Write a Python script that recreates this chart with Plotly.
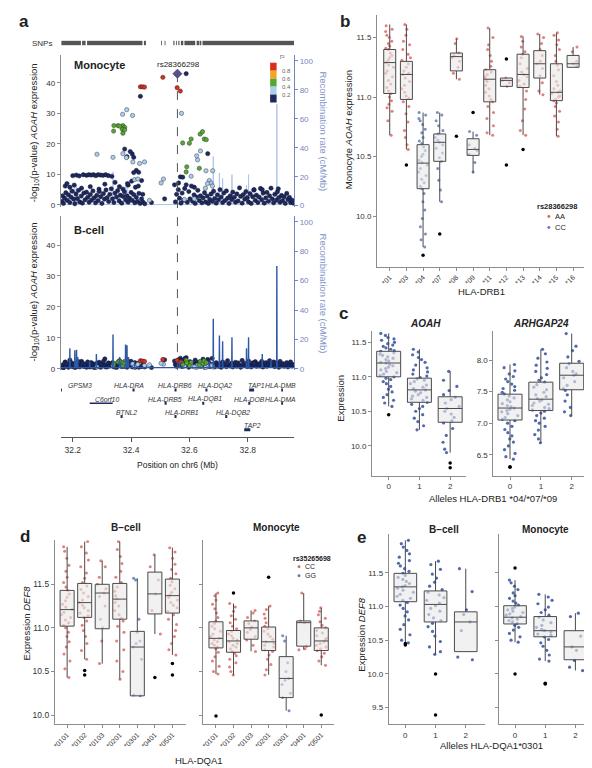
import plotly.graph_objects as go

W, H = 592, 768
FONT = "Liberation Sans, Arial, Helvetica, sans-serif"


def fx(px):
    return px / W


def fy(py):
    return 1 - py / H


# ====================== Panel a data ======================
snp_seg_start = [32.161, 32.232, 32.249, 32.444, 32.503, 32.515, 32.545, 32.554, 32.562, 32.571, 32.583, 32.625, 32.635, 32.645]
snp_seg_end = [32.228, 32.244, 32.439, 32.451, 32.506, 32.518, 32.549, 32.557, 32.566, 32.579, 32.620, 32.633, 32.641, 32.959]

lead_snp = "rs28366298"
lead_pos = 32.559
lead_mono = 43.0

red_pos = [32.432, 32.439, 32.446, 32.509, 32.558, 32.569]
red_mono = [38.7, 38.7, 38.6, 41.8, 38.4, 37.3]
red_bcell = [2.6, 2.5, 2.4, 3.0, 2.7, 2.2]

green_pos = [32.341, 32.355, 32.372, 32.378, 32.340, 32.370, 32.372, 32.378, 32.361, 32.606,
             32.577, 32.637, 32.645, 32.651, 32.600, 32.589, 32.634, 32.591, 32.658]
green_mono = [26.0, 26.0, 26.0, 25.4, 24.2, 24.8, 23.5, 24.6, 25.8, 21.6,
              20.3, 23.2, 24.0, 21.6, 20.2, 10.8, 12.0, 12.5, 21.4]
green_bcell = [1.8, 2.2, 1.5, 2.4, 1.2, 2.0, 1.0, 1.7, 2.5, 2.1,
               1.4, 2.3, 1.6, 2.6, 1.0, 2.8, 1.2, 1.9, 2.0]

lblue_pos = [32.385, 32.371, 32.405, 32.573, 32.283, 32.338, 32.372, 32.384, 32.406, 32.429,
             32.446, 32.412, 32.423, 32.638, 32.628, 32.625, 32.606, 32.657, 32.680, 32.668,
             32.674, 32.511, 32.503, 32.662, 32.679, 32.655, 32.463, 32.583, 32.617]
lblue_mono = [31.2, 29.7, 29.3, 30.0, 16.6, 15.6, 16.8, 15.5, 14.1, 13.6,
              14.1, 8.3, 8.5, 17.7, 14.8, 16.1, 9.4, 11.2, 11.2, 8.0,
              7.2, 8.5, 7.2, 7.0, 6.2, 5.5, 1.5, 1.8, 2.0]
lblue_bcell = [1.2, 0.8, 1.5, 2.0, 0.6, 1.0, 1.3, 0.9, 1.6, 2.0,
               1.1, 0.7, 1.4, 0.8, 1.2, 0.5, 1.0, 1.3, 0.6, 0.9,
               1.1, 1.5, 1.8, 0.7, 1.0, 0.4, 1.3, 0.9, 0.6]

navy_pos = [
    32.200, 32.212, 32.222, 32.236, 32.247, 32.255, 32.263, 32.271, 32.279, 32.287,
    32.296, 32.304, 32.313, 32.322, 32.334, 32.174, 32.180, 32.190, 32.205, 32.230,
    32.260, 32.290, 32.310, 32.345, 32.360, 32.372, 32.390, 32.415, 32.425, 32.440,
    32.589, 32.432, 32.378, 32.397, 32.404, 32.386, 32.409, 32.663, 32.418, 32.409,
    32.426, 32.569, 32.577, 32.563, 32.589, 32.549, 32.617, 32.436, 32.402, 32.388,
    32.515, 32.470, 32.162, 32.165, 32.168, 32.172, 32.176, 32.181, 32.185, 32.190,
    32.194, 32.198, 32.203, 32.207, 32.211, 32.216, 32.220, 32.224, 32.229, 32.233,
    32.238, 32.242, 32.247, 32.251, 32.256, 32.260, 32.265, 32.269, 32.273, 32.278,
    32.282, 32.287, 32.291, 32.296, 32.300, 32.305, 32.309, 32.314, 32.318, 32.323,
    32.327, 32.332, 32.336, 32.341, 32.345, 32.350, 32.354, 32.359, 32.363, 32.368,
    32.372, 32.377, 32.381, 32.386, 32.390, 32.395, 32.400, 32.404, 32.409, 32.413,
    32.418, 32.422, 32.427, 32.431, 32.436, 32.440, 32.447, 32.552, 32.556, 32.562,
    32.566, 32.571, 32.575, 32.580, 32.584, 32.593, 32.598, 32.602, 32.607, 32.611,
    32.616, 32.620, 32.625, 32.629, 32.634, 32.638, 32.643, 32.647, 32.652, 32.656,
    32.661, 32.665, 32.670, 32.674, 32.678, 32.683, 32.687, 32.692, 32.696, 32.700,
    32.705, 32.709, 32.714, 32.718, 32.722, 32.727, 32.731, 32.736, 32.740, 32.745,
    32.749, 32.754, 32.758, 32.763, 32.767, 32.772, 32.776, 32.781, 32.785, 32.790,
    32.794, 32.799, 32.803, 32.808, 32.812, 32.817, 32.821, 32.826, 32.830, 32.835,
    32.839, 32.844, 32.848, 32.853, 32.857, 32.862, 32.866, 32.871, 32.875, 32.880,
    32.884, 32.889, 32.893, 32.898, 32.902, 32.907, 32.911, 32.916, 32.920, 32.925,
    32.929, 32.934, 32.938, 32.943, 32.947, 32.952, 32.956, 32.822, 32.850, 32.905]
navy_mono = [
    9.6, 9.8, 9.5, 9.9, 9.7, 9.9, 9.8, 9.9, 9.6, 9.9,
    9.8, 9.7, 9.9, 9.6, 9.4, 6.2, 7.0, 5.8, 6.5, 5.5,
    6.0, 5.2, 6.8, 7.4, 6.0, 5.2, 6.5, 5.8, 6.2, 3.5,
    43.0, 35.6, 18.3, 17.5, 16.7, 15.8, 15.6, 16.8, 11.3, 10.6,
    10.7, 9.2, 9.1, 7.2, 6.6, 6.6, 5.8, 8.0, 7.8, 7.0,
    2.0, 0.8, 1.2, 3.0, 0.5, 2.2, 4.0, 1.5, 3.3, 0.8,
    2.6, 4.5, 1.9, 0.4, 3.6, 2.1, 4.8, 1.0, 2.9, 0.6,
    3.9, 1.7, 4.2, 2.5, 0.9, 3.4, 1.6, 4.6, 2.3, 0.7,
    3.1, 1.4, 4.4, 2.7, 0.5, 3.7, 1.9, 4.9, 2.4, 1.1,
    3.5, 5.3, 2.0, 0.8, 3.9, 2.6, 4.7, 1.3, 3.2, 0.6,
    2.8, 4.3, 1.7, 3.0, 0.9, 2.2, 4.1, 1.5, 3.4, 0.7,
    2.5, 1.2, 3.8, 0.5, 2.0, 1.0, 0.4, 1.0, 3.5, 5.0,
    2.2, 0.6, 3.9, 1.5, 5.4, 0.9, 4.4, 2.0, 6.2, 1.2,
    3.3, 0.5, 2.6, 4.8, 1.4, 3.0, 0.7, 2.3, 4.0, 1.0,
    2.9, 0.5, 1.8, 3.6, 1.2, 4.5, 2.1, 0.6, 3.3, 1.7,
    5.0, 2.6, 0.8, 3.9, 1.4, 4.6, 2.2, 0.5, 3.0, 1.8,
    4.2, 2.5, 0.9, 3.6, 1.3, 5.6, 2.8, 0.6, 3.4, 1.9,
    4.4, 2.4, 1.0, 3.7, 0.5, 2.7, 4.9, 1.5, 3.2, 0.8,
    2.6, 5.4, 1.7, 3.9, 0.6, 2.3, 4.1, 1.2, 3.0, 5.5,
    2.0, 0.7, 3.5, 1.6, 4.3, 2.4, 0.9, 3.1, 1.4, 2.7,
    0.5, 3.8, 1.8, 2.5, 0.8, 1.6, 0.6, 5.0, 5.0, 5.3]
navy_bcell = [
    1.1, 0.6, 1.8, 0.9, 1.4, 0.7, 2.0, 1.2, 0.5, 1.6,
    0.8, 1.3, 0.6, 1.9, 1.0, 2.2, 1.5, 2.8, 1.7, 2.4,
    1.0, 2.1, 3.2, 1.4, 2.6, 0.8, 1.9, 0.5, 1.2, 0.9,
    1.5, 2.0, 1.1, 2.3, 0.7, 1.6, 0.9, 3.0, 1.3, 0.6,
    1.8, 3.4, 2.2, 1.0, 3.6, 2.5, 1.7, 0.8, 1.5, 2.1,
    2.9, 0.4, 0.6, 1.2, 0.3, 1.8, 0.9, 1.5, 0.5, 1.1,
    2.0, 0.7, 1.4, 0.4, 1.7, 0.9, 2.3, 0.6, 1.2, 1.9,
    0.8, 1.5, 0.5, 2.2, 1.0, 0.6, 1.8, 1.3, 0.4, 1.6,
    1.1, 0.7, 1.9, 0.5, 1.4, 2.4, 0.9, 1.2, 0.6, 1.7,
    0.9, 1.5, 2.0, 0.6, 1.2, 0.4, 1.8, 1.0, 2.2, 0.7,
    1.3, 0.8, 1.9, 0.5, 1.6, 1.1, 2.4, 0.7, 1.4, 2.0,
    0.9, 1.7, 0.5, 1.2, 0.8, 1.5, 0.6, 1.4, 0.8, 2.9,
    1.0, 2.6, 0.7, 1.9, 3.3, 1.2, 0.5, 2.3, 1.6, 0.9,
    1.4, 2.8, 0.6, 1.7, 2.2, 0.8, 1.3, 3.1, 0.5, 1.9,
    1.0, 2.4, 0.7, 1.5, 3.4, 1.1, 0.6, 2.0, 1.3, 0.8,
    1.7, 0.5, 2.2, 1.0, 1.6, 0.7, 2.6, 1.3, 0.9, 1.8,
    0.6, 1.4, 2.1, 0.8, 1.9, 1.2, 0.5, 2.7, 1.5, 1.0,
    1.8, 0.7, 2.5, 1.3, 0.6, 1.9, 1.1, 2.3, 0.8, 1.6,
    0.9, 1.7, 2.4, 0.6, 1.4, 2.0, 0.8, 1.5, 2.6, 1.1,
    1.6, 2.2, 0.7, 1.9, 1.2, 0.5, 2.4, 1.0, 1.7, 0.8,
    1.5, 2.0, 0.6, 1.3, 2.2, 0.9, 1.4, 1.8, 0.7, 1.2]

recomb_pos = [32.190, 32.207, 32.213, 32.217, 32.258, 32.281, 32.338, 32.361, 32.381, 32.386,
              32.391, 32.412, 32.566, 32.668, 32.682, 32.703, 32.714, 32.746, 32.796, 32.803,
              32.850, 32.880, 32.900]
recomb_rate = [14, 12.6, 13, 8, 5, 10, 23.3, 8, 16.5, 16,
               8, 4, 5, 5, 34, 22.6, 18.8, 21.5, 14, 21.5,
               10, 6, 70]
recomb_background = 0.8

gene_names = ["GPSM3", "HLA-DRA", "HLA-DRB6", "HLA-DQA2", "TAP1", "HLA-DMB",
              "C6orf10", "HLA-DRB5", "HLA-DQB1", "HLA-DOB", "HLA-DMA",
              "BTNL2", "HLA-DRB1", "HLA-DQB2", "TAP2"]
gene_start = [32.160, 32.405, 32.549, 32.655, 32.805, 32.915,
              32.258, 32.515, 32.644, 32.802, 32.915,
              32.364, 32.549, 32.723, 32.788]
gene_end = [32.163, 32.412, 32.556, 32.662, 32.822, 32.921,
            32.337, 32.522, 32.651, 32.809, 32.921,
            32.371, 32.556, 32.730, 32.809]
gene_row = [0, 0, 0, 0, 0, 0, 1, 1, 1, 1, 1, 2, 2, 2, 3]

chr_ticks = [32.2, 32.4, 32.6, 32.8]
r2_labels = ["0.8", "0.6", "0.4", "0.2"]

# ====================== Panel b data ======================
b_cats = ["*01", "*03", "*04", "*07", "*08", "*09", "*11", "*12", "*13", "*14", "*15", "*16"]
b_geno = ["AA", "AA", "CC", "CC", "AA", "CC", "AA", "AA", "AA", "AA", "AA", "AA"]
b_q1 = [11.03, 10.98, 10.23, 10.46, 11.22, 10.51, 10.96, 11.09, 11.08, 11.16, 10.97, 11.25]
b_med = [11.29, 11.19, 10.445, 10.62, 11.34, 10.56, 11.15, 11.14, 11.19, 11.28, 11.04, 11.28]
b_q3 = [11.40, 11.30, 10.60, 10.69, 11.37, 10.65, 11.23, 11.16, 11.36, 11.39, 11.28, 11.35]
b_lo = [10.68, 10.56, 9.74, 10.12, 11.15, 10.36, 10.68, 11.09, 10.68, 11.02, 10.67, 11.25]
b_hi = [11.61, 11.61, 10.87, 10.87, 11.49, 10.71, 11.58, 11.16, 11.51, 11.53, 11.54, 11.42]
b_points = [
    [11.60, 11.57, 11.55, 11.52, 11.50, 11.47, 11.45, 11.43, 11.41, 11.40, 11.37, 11.35, 11.33, 11.31, 11.29, 11.27,
     11.25, 11.22, 11.20, 11.17, 11.14, 11.11, 11.08, 11.05, 11.03, 11.00, 10.97, 10.94, 10.91, 10.88, 10.80, 10.68],
    [11.61, 11.57, 11.52, 11.47, 11.44, 11.40, 11.36, 11.33, 11.31, 11.28, 11.25, 11.22, 11.20, 11.19, 11.16, 11.13,
     11.10, 11.07, 11.04, 11.01, 10.99, 10.96, 10.92, 10.86, 10.79, 10.72, 10.66, 10.60, 10.56],
    [10.87, 10.85, 10.82, 10.80, 10.77, 10.73, 10.70, 10.66, 10.63, 10.61, 10.58, 10.55, 10.52, 10.50, 10.47, 10.45,
     10.43, 10.40, 10.37, 10.34, 10.31, 10.28, 10.25, 10.23, 10.19, 10.12, 10.05, 9.98, 9.91, 9.85, 9.80, 9.74],
    [10.87, 10.85, 10.80, 10.76, 10.72, 10.69, 10.66, 10.64, 10.62, 10.60, 10.57, 10.53, 10.49, 10.46, 10.40, 10.30,
     10.22, 10.12],
    [11.49, 11.45, 11.37, 11.35, 11.33, 11.30, 11.25, 11.20, 11.15],
    [10.71, 10.68, 10.60, 10.57, 10.55, 10.52, 10.45, 10.37],
    [11.58, 11.50, 11.44, 11.40, 11.35, 11.30, 11.26, 11.23, 11.21, 11.19, 11.17, 11.15, 11.13, 11.10, 11.07, 11.04,
     11.01, 10.98, 10.96, 10.92, 10.87, 10.82, 10.76, 10.70, 10.68],
    [11.16, 11.14, 11.12, 11.09],
    [11.51, 11.47, 11.42, 11.38, 11.36, 11.33, 11.28, 11.24, 11.21, 11.19, 11.17, 11.14, 11.11, 11.09, 11.05, 10.98,
     10.90, 10.80, 10.72, 10.68],
    [11.53, 11.50, 11.45, 11.40, 11.35, 11.30, 11.28, 11.24, 11.18, 11.12, 11.05, 11.02],
    [11.54, 11.52, 11.48, 11.44, 11.40, 11.35, 11.30, 11.27, 11.23, 11.18, 11.13, 11.10, 11.07, 11.05, 11.04, 11.03,
     11.01, 11.00, 10.98, 10.97, 10.95, 10.92, 10.88, 10.84, 10.79, 10.73, 10.67],
    [11.42, 11.38, 11.30, 11.28, 11.26],
]
b_out_cat = ["*03", "*04", "*07", "*08", "*09", "*12", "*12", "*13"]
b_out_val = [10.43, 9.67, 9.85, 10.67, 10.87, 11.32, 10.43, 10.56]
b_ticks = [10.0, 10.5, 11.0, 11.5]
b_legend_title = "rs28366298"
b_legend_labels = ["AA", "CC"]

# ====================== Panel c data ======================
c_cats = ["0", "1", "2"]
c_aoah_q1 = [11.00, 10.63, 10.34]
c_aoah_med = [11.20, 10.81, 10.54]
c_aoah_q3 = [11.37, 10.98, 10.71]
c_aoah_lo = [10.57, 10.23, 9.90]
c_aoah_hi = [11.63, 11.40, 11.08]
c_aoah_points = [
    [11.63, 11.60, 11.57, 11.55, 11.53, 11.50, 11.48, 11.46, 11.44, 11.42, 11.40, 11.38, 11.37, 11.35, 11.33, 11.31,
     11.29, 11.27, 11.25, 11.23, 11.21, 11.20, 11.18, 11.16, 11.14, 11.12, 11.10, 11.08, 11.06, 11.04, 11.02, 11.00,
     10.98, 10.96, 10.93, 10.90, 10.86, 10.82, 10.78, 10.74, 10.70, 10.66, 10.62, 10.57],
    [11.40, 11.36, 11.32, 11.28, 11.25, 11.21, 11.17, 11.13, 11.10, 11.07, 11.04, 11.01, 10.99, 10.97, 10.95, 10.93,
     10.90, 10.88, 10.85, 10.83, 10.81, 10.79, 10.77, 10.74, 10.72, 10.70, 10.68, 10.66, 10.63, 10.60, 10.57, 10.54,
     10.50, 10.45, 10.40, 10.35, 10.29, 10.23],
    [11.08, 10.95, 10.86, 10.80, 10.74, 10.70, 10.67, 10.62, 10.57, 10.54, 10.50, 10.46, 10.41, 10.36, 10.33, 10.25,
     10.15, 10.05, 9.95, 9.90],
]
c_aoah_out_cat = ["0", "2", "2"]
c_aoah_out_val = [10.45, 9.75, 9.68]
c_arh_q1 = [7.05, 7.20, 7.53]
c_arh_med = [7.24, 7.38, 7.76]
c_arh_q3 = [7.46, 7.65, 7.95]
c_arh_lo = [6.43, 6.69, 7.12]
c_arh_hi = [7.93, 8.17, 8.42]
c_arh_points = [
    [7.93, 7.88, 7.83, 7.78, 7.74, 7.70, 7.66, 7.62, 7.58, 7.55, 7.52, 7.49, 7.46, 7.43, 7.40, 7.37, 7.34, 7.31, 7.28,
     7.26, 7.24, 7.22, 7.20, 7.18, 7.15, 7.12, 7.09, 7.06, 7.04, 7.00, 6.95, 6.90, 6.85, 6.80, 6.75, 6.70, 6.64, 6.58,
     6.52, 6.47, 6.43],
    [8.17, 8.10, 8.03, 7.97, 7.92, 7.87, 7.82, 7.77, 7.72, 7.68, 7.65, 7.61, 7.57, 7.53, 7.49, 7.45, 7.42, 7.39, 7.37,
     7.35, 7.32, 7.30, 7.28, 7.25, 7.23, 7.21, 7.19, 7.16, 7.12, 7.08, 7.04, 7.00, 6.95, 6.89, 6.82, 6.75, 6.69],
    [8.42, 8.22, 8.15, 8.05, 7.98, 7.94, 7.88, 7.82, 7.78, 7.76, 7.72, 7.66, 7.60, 7.55, 7.52, 7.45, 7.35, 7.25, 7.18,
     7.12],
]
c_arh_out_cat = ["0", "0"]
c_arh_out_val = [6.30, 6.31]
c_aoah_ticks = [10.0, 10.5, 11.0, 11.5]
c_arh_ticks = [6.5, 7.0, 7.5, 8.0]

# ====================== Panel d data ======================
d_cats = ["*0101", "*0102", "*0103", "*0201", "*0301", "*0401", "*0501"]
d_geno = ["CC", "CC", "CC", "CC", "GG", "CC", "CC"]
d_b_q1 = [11.02, 11.12, 10.99, 11.10, 10.22, 11.16, 11.17]
d_b_med = [11.21, 11.29, 11.40, 11.33, 10.78, 11.39, 11.37]
d_b_q3 = [11.43, 11.51, 11.50, 11.51, 10.96, 11.64, 11.56]
d_b_lo = [10.43, 10.64, 10.59, 10.41, 10.22, 10.93, 10.69]
d_b_hi = [11.93, 11.99, 11.77, 11.99, 11.57, 11.84, 11.92]
d_b_points = [
    [11.93, 11.88, 11.80, 11.72, 11.65, 11.58, 11.52, 11.47, 11.43, 11.39, 11.35, 11.31, 11.27, 11.24, 11.21, 11.18,
     11.15, 11.12, 11.09, 11.06, 11.03, 11.00, 10.95, 10.90, 10.84, 10.78, 10.70, 10.62, 10.53, 10.43],
    [11.99, 11.93, 11.86, 11.78, 11.70, 11.63, 11.57, 11.52, 11.48, 11.44, 11.40, 11.36, 11.32, 11.29, 11.26, 11.23,
     11.20, 11.17, 11.14, 11.12, 11.08, 11.03, 10.97, 10.90, 10.82, 10.74, 10.64],
    [11.77, 11.70, 11.58, 11.50, 11.45, 11.40, 11.36, 11.25, 11.10, 11.00, 10.85, 10.59],
    [11.99, 11.90, 11.82, 11.74, 11.65, 11.58, 11.52, 11.47, 11.42, 11.37, 11.33, 11.29, 11.25, 11.20, 11.15, 11.11,
     11.08, 11.02, 10.95, 10.85, 10.75, 10.62, 10.50, 10.41],
    [11.57, 11.55, 11.10, 10.95, 10.85, 10.82, 10.78, 10.64, 10.23, 10.22],
    [11.84, 11.70, 11.55, 11.39, 11.20, 10.93],
    [11.92, 11.87, 11.80, 11.73, 11.67, 11.62, 11.57, 11.53, 11.49, 11.45, 11.41, 11.38, 11.35, 11.32, 11.29, 11.26,
     11.23, 11.19, 11.15, 11.10, 11.04, 10.97, 10.90, 10.82, 10.75, 10.69],
]
d_b_out_cat = ["*0102", "*0102", "*0401", "*0501", "*0501"]
d_b_out_val = [10.51, 10.46, 10.43, 10.59, 10.46]
d_m_q1 = [10.77, 10.72, 10.87, 10.74, 10.20, 10.79, 10.74]
d_m_med = [10.88, 10.85, 11.00, 10.84, 10.42, 11.06, 10.85]
d_m_q3 = [11.07, 10.97, 11.08, 11.01, 10.67, 11.08, 11.00]
d_m_lo = [10.47, 10.46, 10.73, 10.46, 10.05, 10.75, 10.57]
d_m_hi = [11.40, 11.28, 11.20, 11.25, 10.91, 11.40, 11.23]
d_m_points = [
    [11.40, 11.37, 11.32, 11.27, 11.22, 11.17, 11.12, 11.08, 11.05, 11.02, 10.99, 10.96, 10.93, 10.90, 10.88, 10.86,
     10.84, 10.82, 10.80, 10.78, 10.76, 10.72, 10.67, 10.62, 10.56, 10.50, 10.47],
    [11.28, 11.24, 11.19, 11.14, 11.10, 11.06, 11.02, 10.99, 10.96, 10.93, 10.91, 10.88, 10.86, 10.84, 10.82, 10.80,
     10.78, 10.76, 10.73, 10.71, 10.68, 10.64, 10.60, 10.55, 10.50, 10.46],
    [11.20, 11.17, 11.12, 11.08, 11.05, 11.01, 10.98, 10.95, 10.90, 10.86, 10.80, 10.73],
    [11.25, 11.21, 11.16, 11.11, 11.06, 11.02, 10.99, 10.96, 10.93, 10.90, 10.87, 10.84, 10.82, 10.80, 10.78, 10.75,
     10.73, 10.69, 10.64, 10.58, 10.52, 10.46],
    [10.91, 10.85, 10.60, 10.50, 10.42, 10.40, 10.35, 10.25, 10.20, 10.05],
    [11.40, 11.08, 11.06, 10.79, 10.76, 10.75],
    [11.23, 11.19, 11.15, 11.11, 11.07, 11.03, 11.00, 10.97, 10.94, 10.91, 10.88, 10.86, 10.84, 10.82, 10.80, 10.78,
     10.76, 10.74, 10.71, 10.67, 10.62, 10.57],
]
d_m_out_cat = ["*0101", "*0102", "*0201", "*0501"]
d_m_out_val = [9.99, 11.40, 11.58, 10.00]
d_ticks = [10.0, 10.5, 11.0, 11.5]
d_legend_title = "rs35265698"
d_legend_labels = ["CC", "GG"]

# ====================== Panel e data ======================
e_cats = ["0", "1", "2"]
e_b_q1 = [11.07, 10.77, 10.33]
e_b_med = [11.29, 11.03, 10.77]
e_b_q3 = [11.49, 11.23, 10.92]
e_b_lo = [10.46, 10.29, 10.33]
e_b_hi = [11.98, 11.67, 11.56]
e_b_points = [
    [11.98, 11.93, 11.88, 11.83, 11.78, 11.73, 11.68, 11.64, 11.60, 11.56, 11.52, 11.49, 11.46, 11.43, 11.40, 11.37,
     11.34, 11.31, 11.29, 11.27, 11.24, 11.21, 11.18, 11.15, 11.12, 11.09, 11.06, 11.02, 10.97, 10.92, 10.86, 10.80,
     10.73, 10.66, 10.58, 10.50, 10.46],
    [11.67, 11.62, 11.55, 11.48, 11.42, 11.36, 11.30, 11.25, 11.21, 11.17, 11.13, 11.09, 11.05, 11.01, 10.97, 10.93,
     10.88, 10.83, 10.79, 10.75, 10.70, 10.63, 10.56, 10.48, 10.40, 10.33, 10.29],
    [11.56, 11.22, 10.95, 10.88, 10.77, 10.64, 10.25, 10.21],
]
e_b_out_cat = ["0", "0", "1", "1"]
e_b_out_val = [10.43, 10.45, 10.00, 9.39]
e_m_q1 = [10.74, 10.55, 10.21]
e_m_med = [10.84, 10.64, 10.40]
e_m_q3 = [11.01, 10.85, 10.64]
e_m_lo = [10.47, 10.19, 10.05]
e_m_hi = [11.39, 11.18, 10.90]
e_m_points = [
    [11.39, 11.35, 11.30, 11.25, 11.20, 11.16, 11.12, 11.08, 11.05, 11.02, 10.99, 10.97, 10.95, 10.93, 10.91, 10.89,
     10.87, 10.85, 10.83, 10.81, 10.79, 10.77, 10.75, 10.72, 10.69, 10.65, 10.60, 10.55, 10.50, 10.47],
    [11.18, 11.14, 11.09, 11.04, 10.99, 10.95, 10.91, 10.87, 10.84, 10.80, 10.76, 10.72, 10.69, 10.66, 10.64, 10.62,
     10.59, 10.57, 10.55, 10.51, 10.46, 10.41, 10.35, 10.28, 10.22, 10.19],
    [10.90, 10.85, 10.56, 10.40, 10.35, 10.20, 10.10, 10.05],
]
e_m_out_cat = ["0", "0", "1", "1"]
e_m_out_val = [11.57, 10.00, 9.85, 9.86]
e_ticks = [9.5, 10.0, 10.5, 11.0, 11.5]

# ====================== styles ======================
NAVY = "#1e2a5e"
LBLUE = "#a9cfec"
GREEN = "#56a832"
ORANGE = "#f4a623"
RED = "#d9301e"
LEAD = "#5b4e9e"
REC_LIGHT = "#b3c4e6"
REC_DARK = "#2c58a6"
RIGHT_AX = "#7487c0"
PT_RED = "rgb(222,106,98)"
PT_BLUE_B = "rgb(96,126,186)"
PT_BLUE = "rgb(50,80,160)"
BOX_FILL = "rgba(232,232,232,0.62)"
BOX_LINE = "#4a4a4a"
AX_COL = "#8c8c8c"
LOCUS_MS = 4.3

fig = go.Figure()

# ---------------- Panel a: SNP track ----------------
sx, sy = [], []
for s, e in zip(snp_seg_start, snp_seg_end):
    sx += [s, e, None]
    sy += [0.5, 0.5, None]
fig.add_trace(go.Scatter(x=sx, y=sy, mode="lines", line=dict(color="#555555", width=4.5),
                         xaxis="x", yaxis="y", hoverinfo="skip"))

# recombination line
rx, ry = [32.159], [recomb_background]
for p, r in zip(recomb_pos, recomb_rate):
    rx += [p - 0.0007, p, p + 0.0007]
    ry += [recomb_background, r, recomb_background]
rx.append(32.959)
ry.append(recomb_background)

# Monocyte: recombination (base axis y2, right) drawn beneath points (y3)
fig.add_trace(go.Scatter(x=rx, y=ry, mode="lines", line=dict(color=REC_LIGHT, width=1),
                         xaxis="x2", yaxis="y2", hoverinfo="skip"))

classes = [
    (navy_pos, navy_mono, navy_bcell, NAVY, "#0e1536"),
    (lblue_pos, lblue_mono, lblue_bcell, LBLUE, "#3a3a4a"),
    (green_pos, green_mono, green_bcell, GREEN, "#2f3a2a"),
    (red_pos, red_mono, red_bcell, RED, "#3a1a1a"),
]
for pos, mono, bc, col, edge in classes:
    fig.add_trace(go.Scatter(x=pos, y=mono, mode="markers",
                             marker=dict(color=col, size=LOCUS_MS, line=dict(color=edge, width=0.5)),
                             xaxis="x2", yaxis="y3", hoverinfo="skip"))
fig.add_trace(go.Scatter(x=[lead_pos], y=[lead_mono], mode="markers",
                         marker=dict(color=LEAD, size=7, symbol="diamond", line=dict(color="#222", width=0.6)),
                         xaxis="x2", yaxis="y3", hoverinfo="skip"))

# B-cell: points on base axis y4, recombination on top (y5)
for pos, mono, bc, col, edge in classes:
    fig.add_trace(go.Scatter(x=pos, y=bc, mode="markers",
                             marker=dict(color=col, size=LOCUS_MS, line=dict(color=edge, width=0.5)),
                             xaxis="x4", yaxis="y4", hoverinfo="skip"))
fig.add_trace(go.Scatter(x=rx, y=ry, mode="lines", line=dict(color=REC_DARK, width=1.4),
                         xaxis="x4", yaxis="y5", hoverinfo="skip"))

# Gene track (short genes as small blocks, long genes as thinner lines)
gx_s, gy_s, gx_l, gy_l = [], [], [], []
for s, e, r in zip(gene_start, gene_end, gene_row):
    if e - s > 0.03:
        gx_l += [s, e, None]
        gy_l += [-r, -r, None]
    else:
        gx_s += [s, e, None]
        gy_s += [-r, -r, None]
fig.add_trace(go.Scatter(x=gx_s, y=gy_s, mode="lines", line=dict(color=NAVY, width=3),
                         xaxis="x6", yaxis="y6", hoverinfo="skip"))
fig.add_trace(go.Scatter(x=gx_l, y=gy_l, mode="lines", line=dict(color=NAVY, width=1.3),
                         xaxis="x6", yaxis="y6", hoverinfo="skip"))


# ---------------- Box panels ----------------
def add_box_panel(xa, ya, cats, q1, med, q3, lo, hi, points, colors, out_cat, out_val,
                  width=0.72, psize=3.2):
    groups = {}
    for c, pts, col in zip(cats, points, colors):
        g = groups.setdefault(col, ([], []))
        g[0].extend([c] * len(pts))
        g[1].extend(pts)
    for col, (xs, ys) in groups.items():
        fig.add_trace(go.Box(x=xs, y=ys, boxpoints="all", jitter=1.0, pointpos=0,
                             width=width * 0.8,
                             fillcolor="rgba(0,0,0,0)", line=dict(color="rgba(0,0,0,0)", width=0),
                             marker=dict(color=col, size=psize, opacity=0.85, line=dict(width=0)),
                             xaxis=xa, yaxis=ya, hoverinfo="skip"))
    fig.add_trace(go.Box(x=cats, q1=q1, median=med, q3=q3, lowerfence=lo, upperfence=hi,
                         orientation="v", boxpoints=False, width=width, whiskerwidth=0,
                         fillcolor=BOX_FILL, line=dict(color=BOX_LINE, width=1),
                         xaxis=xa, yaxis=ya, hoverinfo="skip"))
    fig.add_trace(go.Scatter(x=out_cat, y=out_val, mode="markers",
                             marker=dict(color="black", size=3.5),
                             xaxis=xa, yaxis=ya, hoverinfo="skip"))


b_colors = [PT_RED if g == "AA" else PT_BLUE_B for g in b_geno]
add_box_panel("x7", "y7", b_cats, b_q1, b_med, b_q3, b_lo, b_hi, b_points, b_colors,
              b_out_cat, b_out_val, width=0.72, psize=3)

add_box_panel("x8", "y8", c_cats, c_aoah_q1, c_aoah_med, c_aoah_q3, c_aoah_lo, c_aoah_hi,
              c_aoah_points, [PT_BLUE] * 3, c_aoah_out_cat, c_aoah_out_val, width=0.78, psize=3.2)
add_box_panel("x9", "y9", c_cats, c_arh_q1, c_arh_med, c_arh_q3, c_arh_lo, c_arh_hi,
              c_arh_points, [PT_BLUE] * 3, c_arh_out_cat, c_arh_out_val, width=0.78, psize=3.2)

d_colors = [PT_RED if g == "CC" else PT_BLUE_B for g in d_geno]
add_box_panel("x10", "y10", d_cats, d_b_q1, d_b_med, d_b_q3, d_b_lo, d_b_hi, d_b_points, d_colors,
              d_b_out_cat, d_b_out_val, width=0.8, psize=3)
add_box_panel("x11", "y11", d_cats, d_m_q1, d_m_med, d_m_q3, d_m_lo, d_m_hi, d_m_points, d_colors,
              d_m_out_cat, d_m_out_val, width=0.8, psize=3)

add_box_panel("x12", "y12", e_cats, e_b_q1, e_b_med, e_b_q3, e_b_lo, e_b_hi, e_b_points, [PT_BLUE] * 3,
              e_b_out_cat, e_b_out_val, width=0.75, psize=3.2)
add_box_panel("x13", "y13", e_cats, e_m_q1, e_m_med, e_m_q3, e_m_lo, e_m_hi, e_m_points, [PT_BLUE] * 3,
              e_m_out_cat, e_m_out_val, width=0.75, psize=3.2)

# ---------------- Layout ----------------
XA = [fx(51), fx(285)]
XR = [32.159, 32.959]
hidden = dict(visible=False, showgrid=False, zeroline=False)
base_ax = dict(showline=True, linecolor=AX_COL, linewidth=1, ticks="outside", ticklen=3,
               tickcolor=AX_COL, tickfont=dict(size=8, color="#333"), showgrid=False, zeroline=False)


def yfmt(vals):
    return dict(tickvals=vals, ticktext=["%.1f" % v for v in vals])


layout = dict(
    width=W, height=H, margin=dict(l=0, r=0, t=0, b=0),
    paper_bgcolor="white", plot_bgcolor="white", showlegend=False,
    font=dict(family=FONT, color="#222"), boxmode="overlay",
    xaxis=dict(domain=XA, range=XR, anchor="y", **hidden),
    yaxis=dict(domain=[fy(38), fy(32.5)], range=[0, 1], anchor="x", **hidden),
    xaxis2=dict(domain=XA, range=XR, anchor="y2", **hidden),
    yaxis2=dict(domain=[fy(200), fy(47)], range=[-0.9, 104.3], anchor="x2", side="right",
                **{**base_ax, "linecolor": RIGHT_AX, "tickcolor": RIGHT_AX,
                   "tickfont": dict(size=8, color=RIGHT_AX)},
                tickvals=[0, 20, 40, 60, 80, 100]),
    yaxis3=dict(overlaying="y2", range=[-0.65, 49.2], anchor="x2", side="left",
                tickvals=[0, 10, 20, 30, 40], **base_ax),
    xaxis4=dict(domain=XA, range=XR, anchor="y4", **hidden),
    yaxis4=dict(domain=[fy(364), fy(209.5)], range=[-0.42, 49.26], anchor="x4", side="left",
                tickvals=[0, 10, 20, 30, 40], **base_ax),
    yaxis5=dict(overlaying="y4", range=[-0.88, 103.7], anchor="x4", side="right",
                **{**base_ax, "linecolor": RIGHT_AX, "tickcolor": RIGHT_AX,
                   "tickfont": dict(size=8, color=RIGHT_AX)},
                tickvals=[0, 20, 40, 60, 80, 100]),
    xaxis6=dict(domain=XA, range=XR, anchor="y6",
                **{**base_ax, "linecolor": "#555", "tickcolor": "#555", "ticklen": 4,
                   "tickfont": dict(size=8.5, color="#333")},
                tickvals=chr_ticks, ticktext=["%.1f" % v for v in chr_ticks]),
    yaxis6=dict(domain=[fy(431.7), fy(372)], range=[-3.58, 0.9], anchor="x6", **hidden),
    # b
    xaxis7=dict(domain=[fx(368.3), fx(576.7)], range=[-0.76, 11.7], anchor="y7", type="category",
                categoryorder="array", categoryarray=b_cats, tickangle=-45,
                **{**base_ax, "tickfont": dict(size=7, color="#333")}),
    yaxis7=dict(domain=[fy(260), fy(7)], range=[9.575, 11.69], anchor="x7", **base_ax, **yfmt(b_ticks)),
    # c
    xaxis8=dict(domain=[fx(363.3), fx(458)], range=[-0.54, 2.53], anchor="y8", type="category",
                categoryorder="array", categoryarray=c_cats, **base_ax),
    yaxis8=dict(domain=[fy(470), fy(325)], range=[9.567, 11.66], anchor="x8", **base_ax, **yfmt(c_aoah_ticks)),
    xaxis9=dict(domain=[fx(485), fx(580)], range=[-0.54, 2.53], anchor="y9", type="category",
                categoryorder="array", categoryarray=c_cats, **base_ax),
    yaxis9=dict(domain=[fy(470), fy(325)], range=[6.17, 8.456], anchor="x9", **base_ax, **yfmt(c_arh_ticks)),
    # d
    xaxis10=dict(domain=[fx(45), fx(176.7)], range=[-0.70, 6.78], anchor="y10", type="category",
                 categoryorder="array", categoryarray=d_cats, tickangle=-45,
                 **{**base_ax, "tickfont": dict(size=7, color="#333")}),
    yaxis10=dict(domain=[fy(720), fy(535)], range=[9.894, 12.006], anchor="x10",
                 **{**base_ax, "tickfont": dict(size=8.5, color="#333")}, **yfmt(d_ticks)),
    xaxis11=dict(domain=[fx(193.3), fx(325)], range=[-0.76, 6.72], anchor="y11", type="category",
                 categoryorder="array", categoryarray=d_cats, tickangle=-45,
                 **{**base_ax, "tickfont": dict(size=7, color="#333")}),
    yaxis11=dict(domain=[fy(720), fy(535)], range=[9.894, 12.006], anchor="x11", showticklabels=False,
                 **base_ax, tickvals=d_ticks),
    # e
    xaxis12=dict(domain=[fx(380), fx(476.7)], range=[-0.55, 2.64], anchor="y12", type="category",
                 categoryorder="array", categoryarray=e_cats, **base_ax),
    yaxis12=dict(domain=[fy(720), fy(528.3)], range=[9.254, 12.08], anchor="x12", **base_ax, **yfmt(e_ticks)),
    xaxis13=dict(domain=[fx(490.7), fx(587.3)], range=[-0.53, 2.66], anchor="y13", type="category",
                 categoryorder="array", categoryarray=e_cats, **base_ax),
    yaxis13=dict(domain=[fy(720), fy(528.3)], range=[9.254, 12.08], anchor="x13", showticklabels=False,
                 **base_ax, tickvals=e_ticks),
)
fig.update_layout(**layout)

# ---------------- shapes ----------------
shapes = [dict(type="line", xref="x2", yref="paper", x0=lead_pos, x1=lead_pos, y0=fy(364), y1=fy(64),
               line=dict(color="#555", width=1, dash="dash"))]
r2_colors = [RED, ORANGE, GREEN, LBLUE, NAVY]
for i, c in enumerate(r2_colors):
    shapes.append(dict(type="rect", xref="paper", yref="paper", x0=fx(261), x1=fx(267.5),
                       y0=fy(55 + 8 * (i + 1)), y1=fy(55 + 8 * i), fillcolor=c, line=dict(width=0)))


def legend_dot(px, py, color, r=1.5):
    shapes.append(dict(type="circle", xref="paper", yref="paper", x0=fx(px - r), x1=fx(px + r),
                       y0=fy(py + r), y1=fy(py - r), fillcolor=color, line=dict(width=0)))


legend_dot(540.7, 209.5, PT_RED)
legend_dot(540.7, 220.7, PT_BLUE_B)
legend_dot(290, 561.7, PT_RED)
legend_dot(290, 570.7, PT_BLUE_B)
fig.update_layout(shapes=shapes)

# ---------------- annotations ----------------
anns = []


def ann(text, px, py, size=9, xanchor="center", yanchor="middle", angle=0, color="#222", **kw):
    anns.append(dict(text=text, x=fx(px), y=fy(py), xref="paper", yref="paper", showarrow=False,
                     xanchor=xanchor, yanchor=yanchor, textangle=angle,
                     font=dict(size=size, color=color, family=FONT), **kw))


# panel letters
ann("<b>a</b>", 14, 14, size=17)
ann("<b>b</b>", 336, 14, size=17)
ann("<b>c</b>", 335, 307, size=17)
ann("<b>d</b>", 15, 531, size=17)
ann("<b>e</b>", 353, 532, size=17)

# panel a
ann("SNPs", 32, 35.5, size=8, color="#333")
ann("<b>Monocyte</b>", 62, 57, size=11, xanchor="left")
ann("<b>B-cell</b>", 62, 223, size=11, xanchor="left")
ann(lead_snp, 168.7, 57, size=8)
ylab_a = "-log<sub>10</sub>(p-value) <i>AOAH</i> expression"
ann(ylab_a, 24, 125, size=9.5, angle=-90)
ann(ylab_a, 24, 285, size=9.5, angle=-90)
ann("Recombination rate (cM/Mb)", 315, 124, size=9.5, angle=90, color="#8193c8")
ann("Recombination rate (cM/Mb)", 315, 287, size=9.5, angle=90, color="#8193c8")
ann("r\u00b2", 273, 49, size=6.5, color="#555")
for i, t in enumerate(r2_labels):
    ann(t, 271, 63 + 8 * i, size=6, xanchor="left", color="#666")
ann("Position on chr6 (Mb)", 168, 459, size=8.5)

gene_label_nudge = {"GPSM3": 18, "HLA-DRA": -5, "HLA-DRB6": -1, "HLA-DQA2": 9, "TAP1": 5, "HLA-DMB": -2,
                    "C6orf10": 6, "HLA-DRB5": -1, "HLA-DQB1": 2, "HLA-DOB": 0, "HLA-DMA": -2,
                    "BTNL2": 5, "HLA-DRB1": 6, "HLA-DQB2": 7, "TAP2": 5}
for n, s, e, r in zip(gene_names, gene_start, gene_end, gene_row):
    anns.append(dict(text="<i>%s</i>" % n, x=(s + e) / 2, y=-r, xref="x6", yref="y6", showarrow=False,
                     xshift=gene_label_nudge.get(n, 0), yshift=4, yanchor="middle",
                     font=dict(size=6.8, color="#333", family=FONT)))

# panel b
ann("Monocyte <i>AOAH</i> expression", 340, 122, size=9.5, angle=-90)
ann("HLA-DRB1", 473, 285, size=9.5)
ann("<b>%s</b>" % b_legend_title, 527, 200, size=7.5, xanchor="left")
ann(b_legend_labels[0], 545, 209.5, size=7.5, xanchor="left")
ann(b_legend_labels[1], 545, 220.7, size=7.5, xanchor="left")

# panel c
ann("<b><i>AOAH</i></b>", 416.7, 316.7, size=10)
ann("<b><i>ARHGAP24</i></b>", 533, 316.7, size=10)
ann("Expression", 332, 392, size=9.5, angle=-90)
ann("Alleles HLA-DRB1 *04/*07/*09", 485, 492.7, size=9.5)

# panel d
ann("<b>B\u2212cell</b>", 116.7, 522.7, size=10)
ann("<b>Monocyte</b>", 267, 522.7, size=10)
ann("Expression <i>DEF8</i>", 16.7, 618, size=9.5, angle=-90)
ann("HLA-DQA1", 190, 756.7, size=9.5)
ann("<b>%s</b>" % d_legend_title, 281.7, 553.3, size=7, xanchor="left")
ann(d_legend_labels[0], 294, 561.7, size=7, xanchor="left")
ann(d_legend_labels[1], 294, 570.7, size=7, xanchor="left")

# panel e
ann("<b>B\u2212cell</b>", 435, 524, size=10)
ann("<b>Monocyte</b>", 537.3, 524, size=10)
ann("Expression <i>DEF8</i>", 353.3, 630, size=9.5, angle=-90)
ann("Alleles HLA-DQA1*0301", 482.7, 741.7, size=9.5)

fig.update_layout(annotations=anns)

fig.write_html("out.html")
